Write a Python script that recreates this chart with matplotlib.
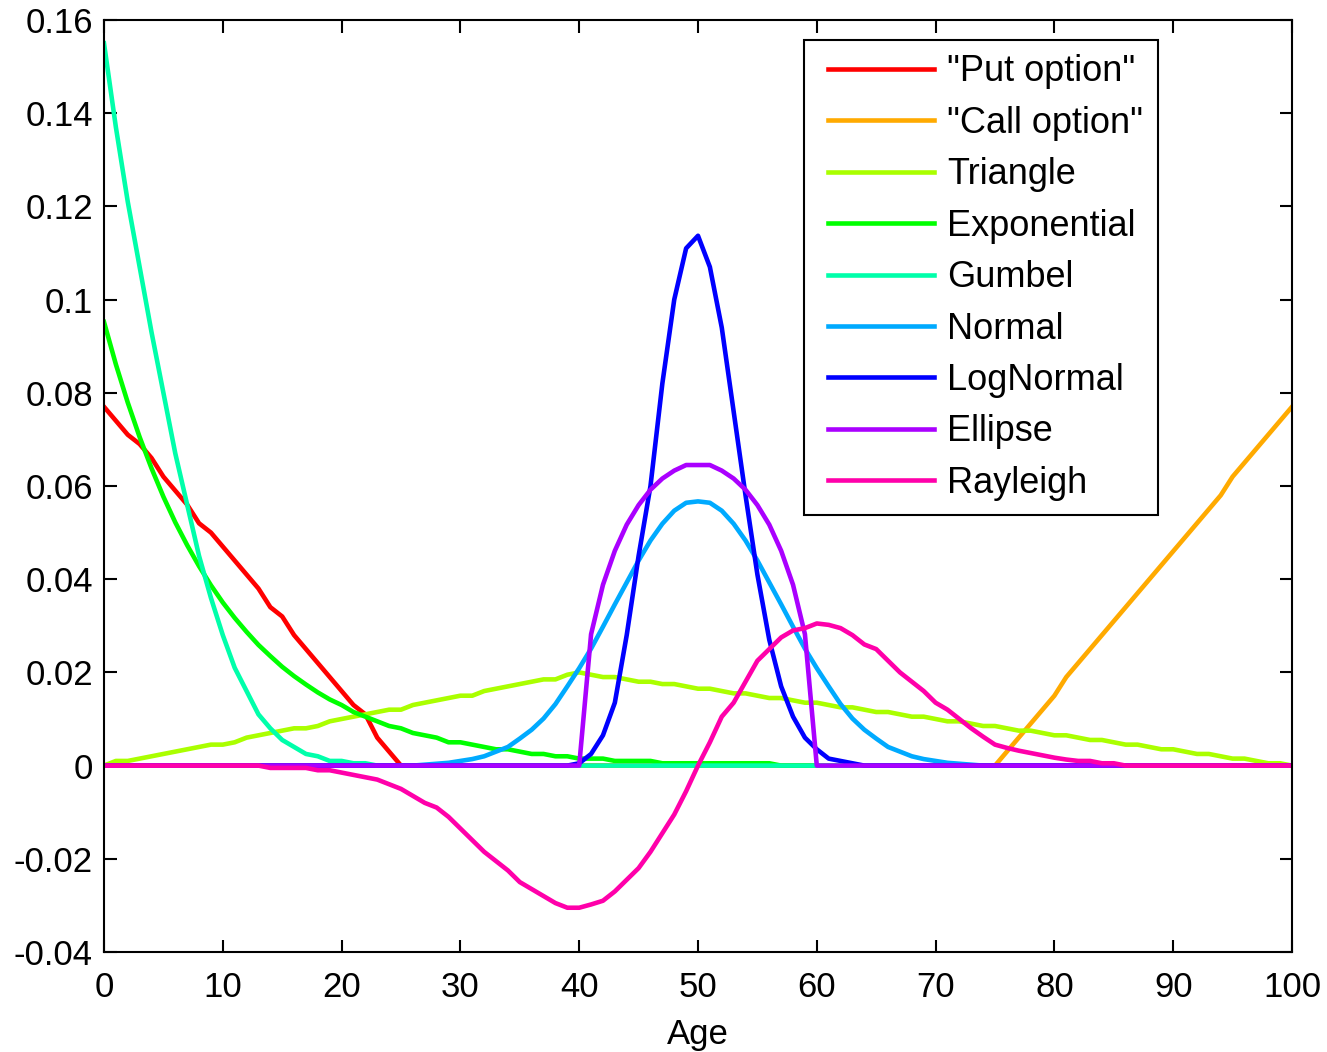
import matplotlib
matplotlib.use("Agg")
import matplotlib.pyplot as plt
import matplotlib.ticker as ticker
from matplotlib.lines import Line2D
from matplotlib.legend_handler import HandlerLine2D

plt.rcParams['font.family'] = ['Liberation Sans', 'DejaVu Sans']
plt.rcParams['axes.unicode_minus'] = False

ages = list(range(0, 101))

put_option = [
    0.077, 0.074, 0.071, 0.069, 0.066, 0.062, 0.059, 0.056, 0.052, 0.050,
    0.047, 0.044, 0.041, 0.038, 0.034, 0.032, 0.028, 0.025, 0.022, 0.019,
    0.016, 0.013, 0.011, 0.006, 0.003, 0, 0, 0, 0, 0,
    0, 0, 0, 0, 0, 0, 0, 0, 0, 0,
    0, 0, 0, 0, 0, 0, 0, 0, 0, 0,
    0, 0, 0, 0, 0, 0, 0, 0, 0, 0,
    0, 0, 0, 0, 0, 0, 0, 0, 0, 0,
    0, 0, 0, 0, 0, 0, 0, 0, 0, 0,
    0, 0, 0, 0, 0, 0, 0, 0, 0, 0,
    0, 0, 0, 0, 0, 0, 0, 0, 0, 0,
    0,
]
call_option = [
    0, 0, 0, 0, 0, 0, 0, 0, 0, 0,
    0, 0, 0, 0, 0, 0, 0, 0, 0, 0,
    0, 0, 0, 0, 0, 0, 0, 0, 0, 0,
    0, 0, 0, 0, 0, 0, 0, 0, 0, 0,
    0, 0, 0, 0, 0, 0, 0, 0, 0, 0,
    0, 0, 0, 0, 0, 0, 0, 0, 0, 0,
    0, 0, 0, 0, 0, 0, 0, 0, 0, 0,
    0, 0, 0, 0, 0, 0, 0.003, 0.006, 0.009, 0.012,
    0.015, 0.019, 0.022, 0.025, 0.028, 0.031, 0.034, 0.037, 0.040, 0.043,
    0.046, 0.049, 0.052, 0.055, 0.058, 0.062, 0.065, 0.068, 0.071, 0.074,
    0.077,
]
triangle = [
    0, 0.001, 0.001, 0.0015, 0.002, 0.0025, 0.003, 0.0035, 0.004, 0.0045,
    0.0045, 0.005, 0.006, 0.0065, 0.007, 0.0075, 0.008, 0.008, 0.0085, 0.0095,
    0.010, 0.0105, 0.011, 0.0115, 0.012, 0.012, 0.013, 0.0135, 0.014, 0.0145,
    0.015, 0.015, 0.016, 0.0165, 0.017, 0.0175, 0.018, 0.0185, 0.0185, 0.0195,
    0.020, 0.0195, 0.019, 0.019, 0.0185, 0.018, 0.018, 0.0175, 0.0175, 0.017,
    0.0165, 0.0165, 0.016, 0.0155, 0.0155, 0.015, 0.0145, 0.0145, 0.014, 0.0135,
    0.0135, 0.013, 0.0125, 0.0125, 0.012, 0.0115, 0.0115, 0.011, 0.0105, 0.0105,
    0.010, 0.0095, 0.0095, 0.009, 0.0085, 0.0085, 0.008, 0.0075, 0.0075, 0.007,
    0.0065, 0.0065, 0.006, 0.0055, 0.0055, 0.005, 0.0045, 0.0045, 0.004, 0.0035,
    0.0035, 0.003, 0.0025, 0.0025, 0.002, 0.0015, 0.0015, 0.001, 0.0005, 0.0005,
    0,
]
exponential = [
    0.0952, 0.0861, 0.0779, 0.0705, 0.0638, 0.0577, 0.0522, 0.0473, 0.0428, 0.0387,
    0.0350, 0.0317, 0.0287, 0.0259, 0.0235, 0.0212, 0.0192, 0.0174, 0.0157, 0.0142,
    0.0130, 0.0115, 0.0105, 0.0095, 0.0085, 0.0080, 0.0070, 0.0065, 0.0060, 0.0050,
    0.0050, 0.0045, 0.0040, 0.0035, 0.0035, 0.0030, 0.0025, 0.0025, 0.0020, 0.0020,
    0.0015, 0.0015, 0.0015, 0.0010, 0.0010, 0.0010, 0.0010, 0.0005, 0.0005, 0.0005,
    0.0005, 0.0005, 0.0005, 0.0005, 0.0005, 0.0005, 0.0005, 0, 0, 0,
    0, 0, 0, 0, 0, 0, 0, 0, 0, 0,
    0, 0, 0, 0, 0, 0, 0, 0, 0, 0,
    0, 0, 0, 0, 0, 0, 0, 0, 0, 0,
    0, 0, 0, 0, 0, 0, 0, 0, 0, 0,
    0,
]
gumbel = [
    0.155, 0.137, 0.121, 0.107, 0.093, 0.080, 0.067, 0.056, 0.045, 0.036,
    0.028, 0.021, 0.016, 0.011, 0.008, 0.0055, 0.004, 0.0025, 0.002, 0.001,
    0.001, 0.0005, 0.0005, 0, 0, 0, 0, 0, 0, 0,
    0, 0, 0, 0, 0, 0, 0, 0, 0, 0,
    0, 0, 0, 0, 0, 0, 0, 0, 0, 0,
    0, 0, 0, 0, 0, 0, 0, 0, 0, 0,
    0, 0, 0, 0, 0, 0, 0, 0, 0, 0,
    0, 0, 0, 0, 0, 0, 0, 0, 0, 0,
    0, 0, 0, 0, 0, 0, 0, 0, 0, 0,
    0, 0, 0, 0, 0, 0, 0, 0, 0, 0,
    0,
]
normal = [
    0, 0, 0, 0, 0, 0, 0, 0, 0, 0,
    0, 0, 0, 0, 0, 0, 0, 0, 0, 0,
    0, 0, 0, 0, 0, 0, 0, 0.0002, 0.0004, 0.0006,
    0.0010, 0.0014, 0.0020, 0.0030, 0.0040, 0.0058, 0.0077, 0.0101, 0.0132, 0.0170,
    0.0209, 0.0251, 0.0298, 0.0346, 0.0393, 0.0440, 0.0483, 0.0519, 0.0547, 0.0564,
    0.0567, 0.0564, 0.0547, 0.0519, 0.0483, 0.0440, 0.0393, 0.0346, 0.0298, 0.0251,
    0.0209, 0.0170, 0.0132, 0.0101, 0.0077, 0.0058, 0.0040, 0.0030, 0.0020, 0.0014,
    0.0010, 0.0006, 0.0004, 0.0002, 0, 0, 0, 0, 0, 0,
    0, 0, 0, 0, 0, 0, 0, 0, 0, 0,
    0, 0, 0, 0, 0, 0, 0, 0, 0, 0,
    0,
]
lognormal = [
    0, 0, 0, 0, 0, 0, 0, 0, 0, 0,
    0, 0, 0, 0, 0, 0, 0, 0, 0, 0,
    0, 0, 0, 0, 0, 0, 0, 0, 0, 0,
    0, 0, 0, 0, 0, 0, 0, 0, 0, 0,
    0.0005, 0.0025, 0.0065, 0.0135, 0.028, 0.045, 0.060, 0.082, 0.100, 0.111,
    0.1137, 0.107, 0.094, 0.076, 0.058, 0.041, 0.027, 0.017, 0.0105, 0.006,
    0.0035, 0.0015, 0.001, 0.0005, 0, 0, 0, 0, 0, 0,
    0, 0, 0, 0, 0, 0, 0, 0, 0, 0,
    0, 0, 0, 0, 0, 0, 0, 0, 0, 0,
    0, 0, 0, 0, 0, 0, 0, 0, 0, 0,
    0,
]
ellipse = [
    0, 0, 0, 0, 0, 0, 0, 0, 0, 0,
    0, 0, 0, 0, 0, 0, 0, 0, 0, 0,
    0, 0, 0, 0, 0, 0, 0, 0, 0, 0,
    0, 0, 0, 0, 0, 0, 0, 0, 0, 0,
    0, 0.0282, 0.0388, 0.0461, 0.0517, 0.0559, 0.0592, 0.0616, 0.0633, 0.0645,
    0.0645, 0.0645, 0.0633, 0.0616, 0.0592, 0.0559, 0.0517, 0.0461, 0.0388, 0.0282,
    0, 0, 0, 0, 0, 0, 0, 0, 0, 0,
    0, 0, 0, 0, 0, 0, 0, 0, 0, 0,
    0, 0, 0, 0, 0, 0, 0, 0, 0, 0,
    0, 0, 0, 0, 0, 0, 0, 0, 0, 0,
    0,
]
rayleigh = [
    0, 0, 0, 0, 0, 0, 0, 0, 0, 0,
    0, 0, 0, 0, -0.0005, -0.0005, -0.0005, -0.0005, -0.001, -0.001,
    -0.0015, -0.002, -0.0025, -0.003, -0.004, -0.005, -0.0065, -0.008, -0.009, -0.011,
    -0.0135, -0.016, -0.0185, -0.0205, -0.0225, -0.025, -0.0265, -0.028, -0.0295, -0.0305,
    -0.0305, -0.0298, -0.029, -0.027, -0.0245, -0.022, -0.0185, -0.0145, -0.0105, -0.0055,
    0, 0.005, 0.0105, 0.0135, 0.018, 0.0225, 0.025, 0.0275, 0.029, 0.0295,
    0.0305, 0.0302, 0.0295, 0.028, 0.026, 0.025, 0.0225, 0.020, 0.018, 0.016,
    0.0135, 0.012, 0.010, 0.008, 0.0062, 0.0045, 0.0038, 0.0032, 0.0027, 0.0022,
    0.0017, 0.0013, 0.001, 0.001, 0.0005, 0.0005, 0, 0, 0, 0,
    0, 0, 0, 0, 0, 0, 0, 0, 0, 0,
    0,
]

series = [
    ('"Put option"', put_option, (1.0, 0.0, 0.0)),
    ('"Call option"', call_option, (1.0, 0.667, 0.0)),
    ('Triangle', triangle, (0.667, 1.0, 0.0)),
    ('Exponential', exponential, (0.0, 1.0, 0.0)),
    ('Gumbel', gumbel, (0.0, 1.0, 0.667)),
    ('Normal', normal, (0.0, 0.667, 1.0)),
    ('LogNormal', lognormal, (0.0, 0.0, 1.0)),
    ('Ellipse', ellipse, (0.667, 0.0, 1.0)),
    ('Rayleigh', rayleigh, (1.0, 0.0, 0.667)),
]

fs = 25
leg_fs = 26

fig = plt.figure(figsize=(13.27, 10.52), dpi=100)
ax = fig.add_axes([104 / 1327, 100 / 1052, 1188 / 1327, 932 / 1052])

for name, vals, col in series:
    ax.plot(ages, vals, color=col, linewidth=3.3, label=name)

ax.set_xlim(0, 100)
ax.set_ylim(-0.04, 0.16)
ax.set_xticks(range(0, 101, 10))
ax.set_yticks([-0.04, -0.02, 0, 0.02, 0.04, 0.06, 0.08, 0.1, 0.12, 0.14, 0.16])
ax.yaxis.set_major_formatter(ticker.FuncFormatter(lambda v, p: '%g' % round(v, 4)))
ax.tick_params(direction='in', length=9, width=1.5, labelsize=fs,
               top=True, right=True)
ax.tick_params(axis='y', pad=8)
ax.tick_params(axis='x', pad=14)
for sp in ax.spines.values():
    sp.set_linewidth(1.5)

ax.set_xlabel('Age', fontsize=fs, labelpad=10)

# legend box spans a fixed width; handles are inset from the left edge
leg = ax.legend(loc='upper left', bbox_to_anchor=(0.589, 0.473, 0.298, 0.5055),
                mode='expand', borderaxespad=0,
                fontsize=leg_fs, handlelength=3.22, handletextpad=0.36,
                labelspacing=0.455, borderpad=0.4, fancybox=False,
                framealpha=1, edgecolor='black',
                handler_map={Line2D: HandlerLine2D(xpad=0.285)})
leg.get_frame().set_linewidth(1.5)

fig.savefig('out.png', dpi=100)
